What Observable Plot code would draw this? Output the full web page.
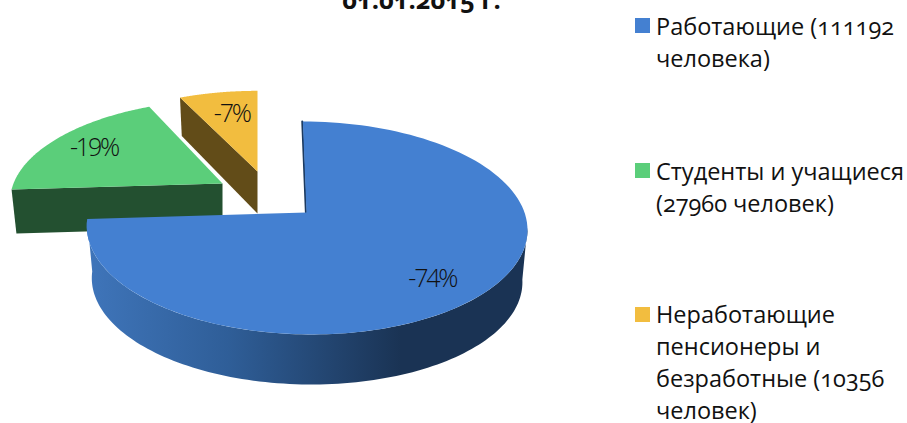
<!DOCTYPE html>
<html><head><meta charset="utf-8">
<style>html,body{margin:0;padding:0;background:#fff}svg{display:block}
.onum{font-feature-settings:"onum" 1;font-variant-numeric:oldstyle-nums}
.pct{letter-spacing:-0.09em}</style>
<script src="https://cdn.jsdelivr.net/npm/d3@7"></script>
<script src="https://cdn.jsdelivr.net/npm/@observablehq/plot@0.6"></script>
</head><body><script>
const titleText = ["01.01.2015 г."];
const groups = ["Работающие","Студенты","Неработающие"];
const shares = [74, 19, 7];
const percentLabels = ["-74%","-19%","-7%"];
const legendLabels = ["Работающие (111192\nчеловека)","Студенты и учащиеся\n(27960 человек)","Неработающие\nпенсионеры и\nбезработные (10356\nчеловек)"];
const topColors = ["#4480d1","#5bce7a","#f2bd3f"];
const sideColors = ["url(#blueSide)","#235030","#624c18"];

// Projection of each slice of the exploded, tilted pie (layout, not data)
const W = 907, H = 423, p = 0.1454;
const view = [
  {cx:306, cy:212, a:218, b:104.2, k:0.04,  drop:52.5, sx:.977, sy:.98,  lab:[.52,.78]},
  {cx:222, cy:183, a:209, b:96,    k:-0.07, drop:44,   sx:.977, sy:.98,  lab:[.5,.77]},
  {cx:257, cy:171, a:206, b:92.4,  k:0,     drop:42,   sx:.977, sy:1.05, lab:[.55,.7]}
];
const ends = d3.cumsum(shares).map(s => s / d3.sum(shares) * 2 * Math.PI);
const starts = [0, ...ends.slice(0, -1)];
function proj(i, t, r = 1, lower = false) {
  const g = view[i], u = r * Math.sin(t), v = r * Math.cos(t), w = 1 + p * v;
  let dx = g.a * u / w, dy = -g.b * v / w;
  dx += g.k * dy;
  if (lower) return {x: g.cx + g.sx * dx, y: g.cy + g.drop + g.sy * dy};
  return {x: g.cx + dx, y: g.cy + dy};
}
function arc(i, t0, t1, lower = false) {
  return d3.range(0, 121).map(j => proj(i, t0 + (t1 - t0) * j / 120, 1, lower));
}
const poly = (pts, fill) => Plot.line(pts, {x:"x", y:"y", fill, stroke:"none", curve:"linear"});

const topFace = i => poly([proj(i, 0, 0), ...arc(i, starts[i], ends[i])], topColors[i]);
// Blue: outer wall; green / yellow: the cut face turned to the viewer
const blueWall = poly([...arc(0, 98 * Math.PI / 180, ends[0]), ...arc(0, 98 * Math.PI / 180, ends[0], true).reverse()], sideColors[0]);
const cutFace = i => poly([proj(i, 0, 0), proj(i, starts[i]), proj(i, starts[i], 1, true), proj(i, 0, 0, true)], sideColors[i]);
const blueInner = Plot.line([proj(0, 0, 0), proj(0, 0)], {x:"x", y:"y", stroke:"#1c3a60", strokeWidth:2, dx:-.6});

const labelData = percentLabels.map((text, i) => ({
  text, ...proj(i, starts[i] + (ends[i] - starts[i]) * view[i].lab[0], view[i].lab[1])
}));
const legendY = [12, 157, 300];
const legend = legendLabels.map((text, i) => ({text, y: legendY[i], y1: [18,163,307][i], y2: [33,178,322][i], fill: topColors[i]}));

const defs = () => {
  const ns = "http://www.w3.org/2000/svg";
  const d = document.createElementNS(ns, "defs");
  d.innerHTML = `<linearGradient id="blueSide" gradientUnits="userSpaceOnUse" x1="87" x2="400" y1="0" y2="0">
    <stop offset="0" stop-color="#3f75ba"/><stop offset=".45" stop-color="#2f5e98"/>
    <stop offset="1" stop-color="#1a3354"/></linearGradient>`;
  return d;
};

const chart = Plot.plot({
  width: W, height: H, margin: 0,
  x: {domain: [0, W], range: [0, W], axis: null},
  y: {domain: [0, H], range: [0, H], axis: null},
  style: {fontFamily: "'Open Sans'", background: "#fff", overflow: "hidden"},
  marks: [
    defs,
    cutFace(2), topFace(2),
    cutFace(1), topFace(1),
    blueWall, blueInner, topFace(0),
    Plot.text(labelData, {x:"x", y:"y", text:"text", fontSize:25, fill:"#111", fontWeight:300, className:"pct"}),
    Plot.text(titleText, {x:() => 421, y:() => 0, text:d => d, fontSize:25.5, fontWeight:700, fill:"#111", className:"onum"}),
    Plot.rect(legend, {x1:() => 635, x2:() => 650, y1:"y1", y2:"y2", fill:"fill"}),
    Plot.text(legend, {x:() => 655.5, y:"y", text:"text", textAnchor:"start", lineAnchor:"top", fontSize:23.5, lineHeight:1.36, fill:"#111", className:"onum"})
  ]
});
document.body.append(chart);
</script></body></html>
